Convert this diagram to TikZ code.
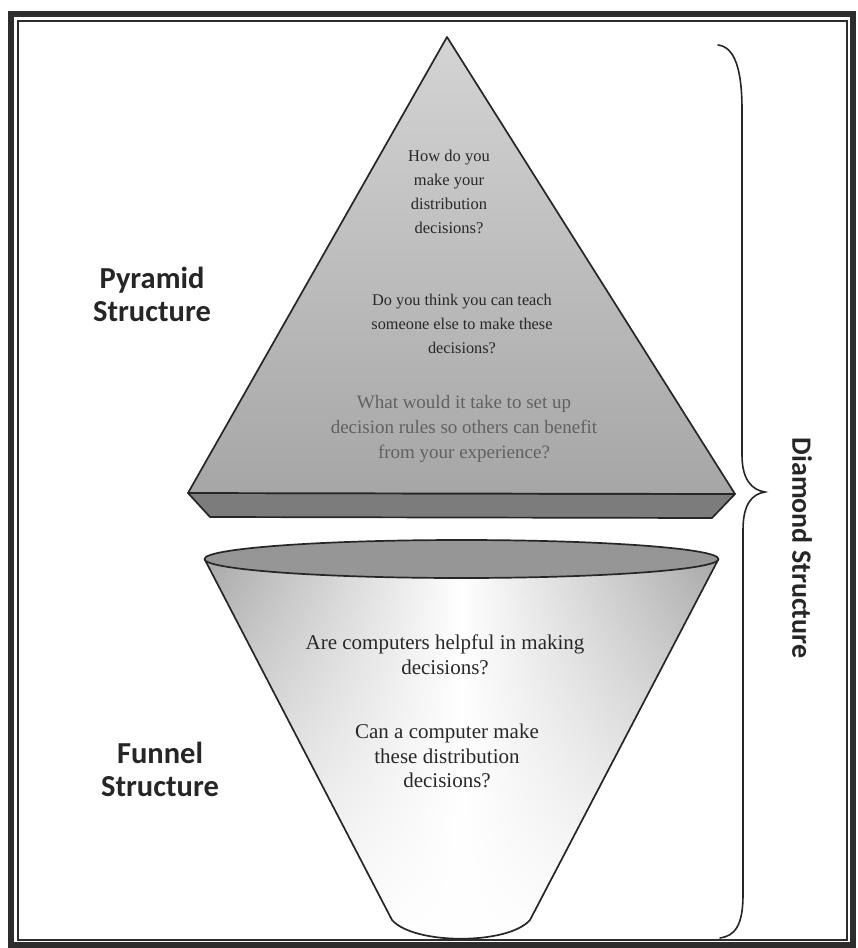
\documentclass[tikz,border=0pt]{standalone}
\usepackage{fontspec}
\setmainfont{Liberation Serif}
\newfontfamily\labelfont{Carlito}
\usetikzlibrary{fadings}

% whitening toward the bottom of the funnel body
\tikzfading[name=whitenbottom, top color=transparent!100, bottom color=transparent!0]

\definecolor{facetop}{RGB}{212,212,212}
\definecolor{facebottom}{RGB}{166,166,166}
\definecolor{slabgray}{RGB}{124,124,124}
\definecolor{rimgray}{RGB}{150,150,150}
\definecolor{conegray}{RGB}{168,168,168}
\definecolor{framegray}{RGB}{45,45,45}
\definecolor{inktext}{RGB}{40,40,40}

\begin{document}
\begin{tikzpicture}[x=1pt,y=-1pt,
  outline/.style={draw=black!85, line width=1.7pt, line join=round},
  question/.style={align=center, text=inktext},
  sidelabel/.style={align=center, text=black!85, font=\labelfont\bfseries\fontsize{30.5}{33}\selectfont},
  bracestroke/.style={draw=black!85, line width=1.6pt, line cap=round}]

\useasboundingbox (0,0) rectangle (858,948);
\fill[white] (0,0) rectangle (858,948);

% double frame
\draw[line width=6pt, framegray] (11,13.5) rectangle (853,945);
\draw[line width=2pt, framegray] (17.5,20.5) rectangle (846.5,939.5);

% pyramid
\coordinate (apex) at (447,37);
\coordinate (bl) at (188,493);
\coordinate (br) at (735,494);
\coordinate (sbl) at (210,517);
\coordinate (sbr) at (712,518);
\path[outline, fill=slabgray] (bl) -- (br) -- (sbr) -- (sbl) -- cycle;
\path[outline, top color=facetop, bottom color=facebottom] (apex) -- (br) -- (bl) -- cycle;

% funnel
\coordinate (fl) at (204.5,559);
\coordinate (fr) at (718.5,559);
\coordinate (fbl) at (392,920);
\coordinate (fbr) at (530,920);
\fill[left color=conegray, right color=conegray, middle color=white]
  (fl) -- (fbl) .. controls (414,945) and (508,945) .. (fbr) -- (fr) -- cycle;
\fill[white, path fading=whitenbottom]
  (fl) -- (fbl) .. controls (414,945) and (508,945) .. (fbr) -- (fr) -- cycle;
\draw[outline] (fl) -- (fbl) .. controls (414,945) and (508,945) .. (fbr) -- (fr);
\path[outline, fill=rimgray] (461.5,559) ellipse [x radius=257, y radius=19];

% questions
\node[question, font=\fontsize{16.5}{24}\selectfont] (q1) at (449,192) {How do you\\make your\\distribution\\decisions?};
\node[question, font=\fontsize{16.3}{24}\selectfont] (q2) at (462,324) {Do you think you can teach\\someone else to make these\\decisions?};
\node[question, text=black!62, font=\fontsize{19}{25}\selectfont] (q3) at (464,429) {What would it take to set up\\decision rules so others can benefit\\from your experience?};
\node[question, font=\fontsize{21}{25}\selectfont] (q4) at (445,655) {Are computers helpful in making\\decisions?};
\node[question, font=\fontsize{21}{24.5}\selectfont] (q5) at (447,756) {Can a computer make\\these distribution\\decisions?};

% side labels
\node[sidelabel] (pyr) at (152,294) {Pyramid\\Structure};
\node[sidelabel] (fun) at (160,769) {Funnel\\Structure};

% brace spanning both shapes
\coordinate (btop) at (718,45);
\coordinate (btip) at (765,492);
\coordinate (bbot) at (720,938);
\draw[bracestroke] (btop) .. controls (735,47) and (742,70) .. (742,110)
  -- (742,455) .. controls (742,480) and (752,490) .. (btip)
  .. controls (752,494) and (743,504) .. (743,530)
  -- (743,895) .. controls (743,925) and (735,936) .. (bbot);
\node[sidelabel, rotate=-90, font=\labelfont\bfseries\fontsize{28}{30}\selectfont] (dia) at (802,548) {Diamond Structure};

\end{tikzpicture}
\end{document}
